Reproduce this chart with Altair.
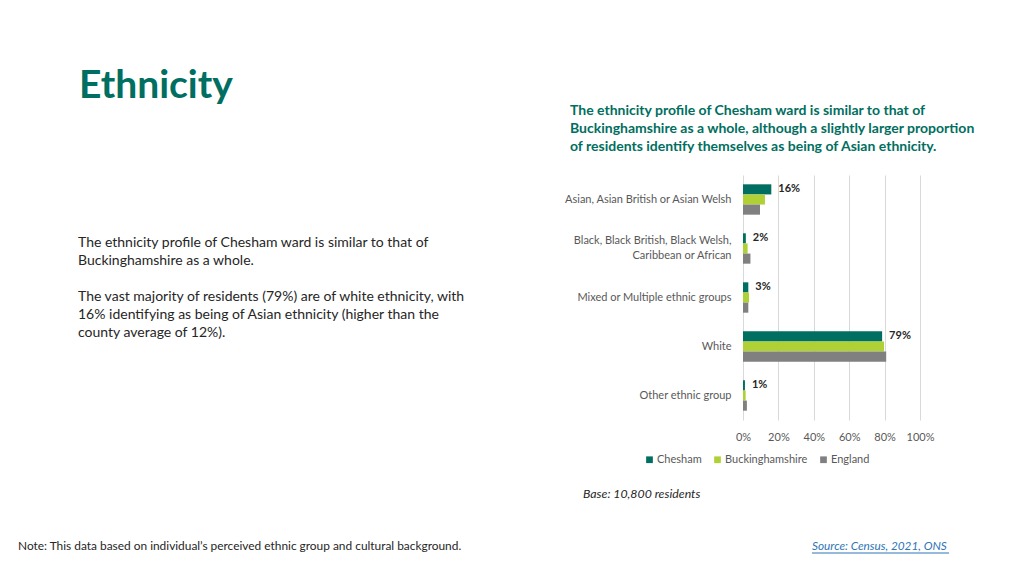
import altair as alt
import pandas as pd

# ---------------- data ----------------
categories = [
    "Asian, Asian British or Asian Welsh",
    "Black, Black British, Black Welsh,\nCaribbean or African",
    "Mixed or Multiple ethnic groups",
    "White",
    "Other ethnic group",
]
areas = ["Chesham", "Buckinghamshire", "England"]
chesham = [16, 1.6, 3, 78.6, 1.1]
buckinghamshire = [12.4, 2.6, 3.4, 79.7, 1.5]
england = [9.6, 4.2, 3.0, 80.9, 2.2]
chesham_labels = ["16%", "2%", "3%", "79%", "1%"]
x_ticks = [0, 20, 40, 60, 80, 100]

title_text = "Ethnicity"
subtitle_lines = [
    "The ethnicity profile of Chesham ward is similar to that of",
    "Buckinghamshire as a whole, although a slightly larger proportion",
    "of residents identify themselves as being of Asian ethnicity.",
]
para1_lines = [
    "The ethnicity profile of Chesham ward is similar to that of",
    "Buckinghamshire as a whole.",
]
para2_lines = [
    "The vast majority of residents (79%) are of white ethnicity, with",
    "16% identifying as being of Asian ethnicity (higher than the",
    "county average of 12%).",
]
base_text = "Base: 10,800 residents"
note_text = "Note: This data based on individual\u2019s perceived ethnic group and cultural background."
source_text = "Source: Census, 2021, ONS"

# ---------------- styles ----------------
FONT = "Lato"
TEAL = "#006E60"
colors = ["#006E60", "#B0D136", "#808080"]

rows = []
series = {"Chesham": chesham, "Buckinghamshire": buckinghamshire, "England": england}
for a in areas:
    for i, c in enumerate(categories):
        rows.append({"category": c, "area": a, "value": series[a][i],
                     "label": chesham_labels[i] if a == "Chesham" else ""})
df = pd.DataFrame(rows)

base = alt.Chart(df)

y_enc = alt.Y(
    "category:N", sort=categories,
    scale=alt.Scale(paddingInner=0.38, paddingOuter=0.19),
    axis=alt.Axis(title=None, labelExpr="split(datum.label, '\\n')", labelFont=FONT,
                  labelFontSize=11, labelColor="#595959", labelPadding=12, ticks=False,
                  domain=False, labelLimit=400, labelLineHeight=15,
                  labelOffset={"condition": {"test": "indexof(datum.value, 'Black') == 0",
                                             "value": -7.5}, "value": 0}),
)
x_enc = alt.X(
    "value:Q", scale=alt.Scale(domain=[0, 100], nice=False),
    axis=alt.Axis(values=x_ticks, labelExpr="datum.value + '%'", title=None, grid=True,
                  gridColor="#D9D9D9", domain=False, ticks=False, labelPadding=11,
                  labelOverlap=False, labelFlush=False, labelFont=FONT, labelFontSize=11,
                  labelColor="#595959"),
)
yoff = alt.YOffset("area:N", sort=areas, scale=alt.Scale(domain=areas))

bars = base.mark_bar().encode(
    y=y_enc, x=x_enc, yOffset=yoff,
    color=alt.Color(
        "area:N", sort=areas, scale=alt.Scale(domain=areas, range=colors),
        legend=alt.Legend(title=None, orient="none", legendX=-99, legendY=279,
                          direction="horizontal", symbolType="square", symbolSize=45,
                          symbolStrokeWidth=0, labelFont=FONT, labelFontSize=11,
                          labelColor="#595959", columnPadding=10, labelOffset=2),
    ),
)

labels = base.transform_filter(alt.datum.area == "Chesham").mark_text(
    align="left", baseline="middle", dx=7, font=FONT, fontSize=11,
    fontWeight="bold", color="#262626",
).encode(y=y_enc, x=x_enc, yOffset=yoff, text="label:N")


def txt(content, x, y, **style):
    return alt.Chart(alt.Data(values=[{}])).mark_text(
        align=style.pop("align", "left"), baseline="middle", font=FONT, **style
    ).encode(x=alt.value(x), y=alt.value(y), text=alt.value(content))


layers = [bars, labels]
layers.append(txt(title_text, -664, -89, fontSize=39, fontWeight="bold", color=TEAL))
for i, line in enumerate(subtitle_lines):
    layers.append(txt(line, -173, -64 + 18 * i, fontSize=14, fontWeight="bold", color=TEAL))
for i, line in enumerate(para1_lines):
    layers.append(txt(line, -665, 68 + 18 * i, fontSize=14, color="#262626"))
for i, line in enumerate(para2_lines):
    layers.append(txt(line, -665, 122 + 18 * i, fontSize=14, color="#262626"))
layers.append(txt(base_text, -160, 319, fontSize=12.3, fontStyle="italic", color="#262626"))
layers.append(txt(note_text, -725, 371, fontSize=11.9, color="#262626"))
layers.append(txt(source_text, 69, 371, fontSize=11.8, fontStyle="italic", color="#2E75B6"))
layers.append(
    alt.Chart(alt.Data(values=[{}])).mark_rule(color="#2E75B6", strokeWidth=1).encode(
        x=alt.value(69), x2=alt.value(206), y=alt.value(378)
    )
)

chart = alt.layer(*layers).properties(
    width=177, height=245,
    autosize=alt.AutoSizeParams(type="none"),
    padding={"left": 735, "top": 167, "right": 96, "bottom": 148},
).configure_view(stroke=None)

chart.save("out.html", embed_options={"renderer": "svg", "actions": False})
